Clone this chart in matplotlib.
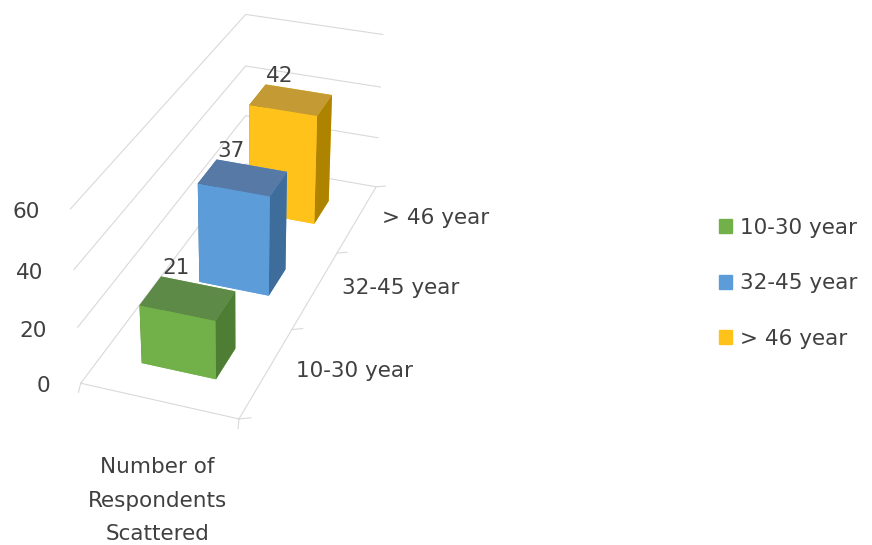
import matplotlib.pyplot as plt
import numpy as np
from mpl_toolkits.mplot3d import proj3d

series = ['10-30 year', '32-45 year', '> 46 year']
values = [21, 37, 42]
category = 'Number of\nRespondents\nScattered'
zticks = [0, 20, 40, 60]

# front, top, side colours per series
front_cols = ['#72B04A', '#5C9CD9', '#FFC21A']
top_cols = ['#5E8A47', '#5779A6', '#C49A35']
side_cols = ['#4E7E34', '#3E6C9B', '#AD8300']

txt = '#404040'
grid = '#D9D9D9'
plt.rcParams['font.family'] = ['DejaVu Sans']
fs = 15.5

fig = plt.figure(figsize=(8.72, 5.45), dpi=100)
ax = fig.add_axes([-0.0462, 0.1708, 0.6336, 0.912], projection='3d', proj_type='persp', focal_length=0.6)
ax.view_init(elev=30, azim=-70)
ax.set_box_aspect((163, 468, 195))

bw, bd = 0.48, 0.35
for i, v in enumerate(values):
    # order: -z, +z, -y, +y, -x, +x
    cols = [front_cols[i], top_cols[i], front_cols[i], front_cols[i], side_cols[i], side_cols[i]]
    ax.bar3d(-bw / 2, i - bd / 2, 0, bw, bd, v, color=cols, shade=False, edgecolor='none')
    ax.text(-bw / 2 + 0.1, i + bd / 2, v + 4, str(v), color=txt, fontsize=fs, ha='center', va='center')

ax.set_xlim(-0.5, 0.5)
ax.set_ylim(-0.5, 2.5)
ax.set_zlim(0, 60)

for a in (ax.xaxis, ax.yaxis, ax.zaxis):
    a.set_pane_color((1, 1, 1, 0))
    a.pane.set_edgecolor((1, 1, 1, 0))
    a._axinfo['tick']['color'] = (1, 1, 1, 0)
    a.label.set_visible(False)
ax.xaxis.line.set_color(grid)
ax.yaxis.line.set_color(grid)
ax.zaxis.line.set_color((1, 1, 1, 0))
for a in (ax.xaxis, ax.yaxis):
    a._axinfo['grid']['color'] = (1, 1, 1, 0)
ax.zaxis._axinfo['grid']['color'] = grid
ax.zaxis._axinfo['grid']['linewidth'] = 0.8

ax.set_xticks([])
ax.set_yticks([])
ax.set_zticks(zticks)
ax.set_zticklabels([])
ax.zaxis.set_ticks_position('none')

# value axis labels, offset from the front end of each gridline
M = ax.get_proj()
for z in zticks:
    px, py, _ = proj3d.proj_transform(-0.5, -0.5, z, M)
    ax.annotate(str(z), xy=(px, py), xycoords='data', xytext=(-22, -2), textcoords='offset points',
                color=txt, fontsize=fs, ha='right', va='center')
# series labels along the depth edge
for i, s in enumerate(series):
    ax.text(0.66, i + 0.08, 0, s, color=txt, fontsize=fs, ha='left', va='center')
# category label under the front edge
ax.text(0.19, -1.0, 0, category, color=txt, fontsize=fs, ha='center', va='top',
        linespacing=1.85)

# small tick marks
for x in (-0.5, 0.5):
    ax.plot([x, x + 0.025], [-0.5, -0.59], [0, 0], color=grid, lw=0.8)
for y in np.arange(-0.5, 3, 1):
    ax.plot([0.5, 0.56], [y, y + 0.035], [0, 0], color=grid, lw=0.8)

handles = [plt.Rectangle((0, 0), 1, 1, color=c) for c in front_cols]
fig.legend(handles, series, loc='center left', bbox_to_anchor=(0.802, 0.48), frameon=False,
           fontsize=fs, labelcolor=txt, handlelength=0.6, handleheight=0.6,
           handletextpad=0.4, labelspacing=1.65)

fig.savefig('out.png', dpi=100)
